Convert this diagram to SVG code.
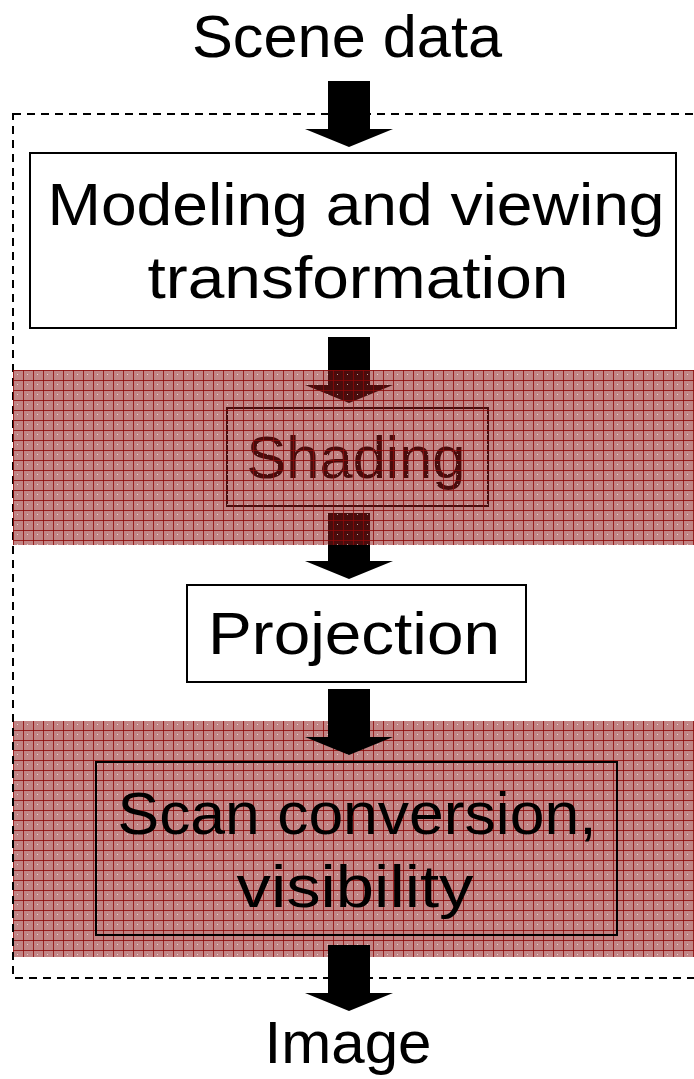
<svg xmlns="http://www.w3.org/2000/svg" width="694" height="1079" viewBox="0 0 694 1079">
  <style>
    .box { fill: #ffffff; stroke: #000000; stroke-width: 2; }
    .open { fill: none; }
    .label { font-family: "Liberation Sans", Arial, sans-serif; font-size: 60px; fill: #000000; text-anchor: middle; }
    .frame { fill: none; stroke: #000000; stroke-width: 2; stroke-dasharray: 8 6; }
    .arrow { fill: #000000; }
  </style>
  <defs>
    <!-- translucent red hatching used by the highlight bands -->
    <pattern id="grid" patternUnits="userSpaceOnUse" x="13" y="370" width="10" height="10">
      <rect x="0" y="0" width="10" height="10" fill="#8a1616" fill-opacity="0.53"/>
      <rect x="4" y="4" width="1" height="1" fill="#ffffff" fill-opacity="0.6"/>
      <rect x="0" y="0" width="10" height="1" fill="#8c0808" fill-opacity="0.82"/>
      <rect x="0" y="0" width="1" height="10" fill="#8c0808" fill-opacity="0.82"/>
    </pattern>
    <path id="downArrow" d="M -21 0 H 21 V 48 H 44 L 0 66 L -44 48 H -21 Z"/>
  </defs>

  <!-- lower highlight band (sits beneath its content) -->
  <rect id="band-scan" x="13" y="721" width="681" height="236" fill="url(#grid)"/>

  <!-- dashed pipeline frame, right edge runs off the page -->
  <rect id="pipeline-frame" class="frame" x="13" y="114" width="700" height="864"/>

  <g id="connectors" class="arrow">
    <use href="#downArrow" x="349" y="81"/>
    <use href="#downArrow" x="349" y="337"/>
    <use href="#downArrow" x="349" y="513"/>
    <use href="#downArrow" x="349" y="689"/>
    <use href="#downArrow" x="349" y="945"/>
  </g>

  <g id="scene-data">
    <text class="label" x="347" y="57" textLength="310" lengthAdjust="spacingAndGlyphs">Scene data</text>
  </g>

  <g id="modeling">
    <rect class="box" x="30" y="153" width="646" height="175"/>
    <text class="label" x="356" y="225" textLength="617" lengthAdjust="spacingAndGlyphs">Modeling and viewing</text>
    <text class="label" x="358" y="298" textLength="421" lengthAdjust="spacingAndGlyphs">transformation</text>
  </g>

  <g id="shading">
    <rect class="box open" x="227" y="408" width="261" height="98"/>
    <text class="label" x="356" y="478" textLength="219" lengthAdjust="spacingAndGlyphs">Shading</text>
  </g>

  <g id="projection">
    <rect class="box" x="187" y="585" width="339" height="97"/>
    <text class="label" x="354" y="654" textLength="292" lengthAdjust="spacingAndGlyphs">Projection</text>
  </g>

  <g id="scan-conversion">
    <rect class="box open" x="96" y="762" width="521" height="173"/>
    <text class="label" x="357" y="834" textLength="479" lengthAdjust="spacingAndGlyphs">Scan conversion,</text>
    <text class="label" x="355" y="907" textLength="237" lengthAdjust="spacingAndGlyphs">visibility</text>
  </g>

  <g id="image">
    <text class="label" x="348" y="1063" textLength="167" lengthAdjust="spacingAndGlyphs">Image</text>
  </g>

  <!-- upper highlight band (drawn over its content) -->
  <rect id="band-shading" x="13" y="370" width="681" height="175" fill="url(#grid)"/>
</svg>
